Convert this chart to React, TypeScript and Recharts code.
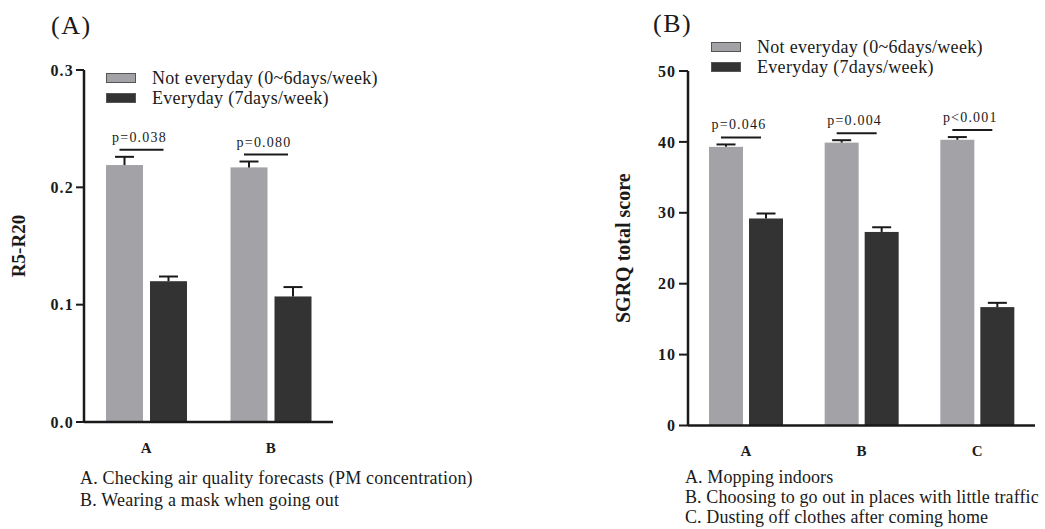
import React from 'react';
import { BarChart, Bar, XAxis, YAxis, Legend, Label } from 'recharts';

// panel A: R5-R20
const categoriesA = ['A', 'B'];
const notEverydayA = [0.219, 0.217];
const notEverydayErrA = [0.007, 0.005];
const everydayA = [0.12, 0.107];
const everydayErrA = [0.004, 0.008];
const pValuesA = ['p=0.038', 'p=0.080'];
const yTicksA = [0, 0.1, 0.2, 0.3];
const notesA = ['A. Checking air quality forecasts (PM concentration)', 'B. Wearing a mask when going out'];

// panel B: SGRQ total score
const categoriesB = ['A', 'B', 'C'];
const notEverydayB = [39.3, 39.9, 40.3];
const notEverydayErrB = [0.34, 0.34, 0.38];
const everydayB = [29.2, 27.3, 16.7];
const everydayErrB = [0.7, 0.66, 0.6];
const pValuesB = ['p=0.046', 'p=0.004', 'p<0.001'];
const yTicksB = [0, 10, 20, 30, 40, 50];
const notesB = [
  'A. Mopping indoors',
  'B. Choosing to go out in places with little traffic',
  'C. Dusting off clothes after coming home',
];

const seriesNames = ['Not everyday (0~6days/week)', 'Everyday (7days/week)'];

const GRAY = '#a3a2a7';
const DARK = '#333333';
const INK = '#1a1a1a';
const FONT = '"Liberation Serif", "Times New Roman", serif';
const seriesColors = [GRAY, DARK];

const dataA = categoriesA.map((c, i) => ({ category: c, notEveryday: notEverydayA[i], everyday: everydayA[i] }));
const dataB = categoriesB.map((c, i) => ({ category: c, notEveryday: notEverydayB[i], everyday: everydayB[i] }));

// bar + upward error bar, optionally the p-value bracket over the pair
const barShape = (values: number[], errs: number[], capWidth: number, pTexts?: string[], gap = 0) => (props: any) => {
  const { x, y, width, height, fill, index } = props;
  const pxPerUnit = height / values[index];
  const errTop = y - errs[index] * pxPerUnit;
  const cx = x + width / 2;
  let note = null;
  if (pTexts) {
    const lineY = errTop - 7;
    const x1 = cx - 5;
    const x2 = x + width + gap + width / 2 - 5;
    note = (
      <g>
        <line x1={x1} y1={lineY} x2={x2} y2={lineY} stroke={INK} strokeWidth={2} />
        <text x={(x1 + x2) / 2 - 2} y={lineY - 8} textAnchor="middle" fontFamily={FONT} fontSize={14} letterSpacing={1.2} fill={INK}>
          {pTexts[index]}
        </text>
      </g>
    );
  }
  return (
    <g>
      <rect x={x} y={y} width={width} height={height} fill={fill} />
      <line x1={cx} y1={y} x2={cx} y2={errTop} stroke={INK} strokeWidth={2} />
      <line x1={cx - capWidth / 2} y1={errTop} x2={cx + capWidth / 2} y2={errTop} stroke={INK} strokeWidth={2} />
      {note}
    </g>
  );
};

// legend kept in series order (recharts sorts by name otherwise)
const legendContent = () => (
  <div style={{ fontFamily: FONT, fontSize: 18, color: INK }}>
    {seriesNames.map((name, i) => (
      <div key={name} style={{ display: 'flex', alignItems: 'center', height: 20 }}>
        <span
          style={{
            display: 'inline-block',
            width: 30,
            height: 10,
            background: seriesColors[i],
            border: '1px solid #555',
            boxSizing: 'border-box',
            marginRight: 16,
          }}
        />
        <span style={{ letterSpacing: 0.3, whiteSpace: 'nowrap' }}>{name}</span>
      </div>
    ))}
  </div>
);

const yLabel = (text: string, x: number, fontSize: number) => (props: any) => {
  const vb = props.viewBox;
  const cy = vb.y + vb.height / 2;
  return (
    <text
      x={x}
      y={cy}
      transform={`rotate(-90 ${x} ${cy})`}
      textAnchor="middle"
      dominantBaseline="central"
      fontFamily={FONT}
      fontWeight="bold"
      fontSize={fontSize}
      fill={INK}
    >
      {text}
    </text>
  );
};

const xTick = { fontFamily: FONT, fontWeight: 'bold', fontSize: 15, fill: INK };
const yTick = { fontFamily: FONT, fontWeight: 'bold', fontSize: 16, fill: INK };

export default function App() {
  return (
    <div style={{ position: 'absolute', left: 0, top: 0, width: 1045, height: 529, background: '#fff', fontFamily: FONT, color: INK }}>
      <div style={{ position: 'absolute', left: 51, top: 13, fontSize: 26, lineHeight: '26px', letterSpacing: 1.5 }}>(A)</div>
      <div style={{ position: 'absolute', left: 653, top: 11, fontSize: 26, lineHeight: '26px', letterSpacing: 1.5 }}>(B)</div>

      <div style={{ position: 'absolute', left: 0, top: 0 }}>
        <BarChart width={350} height={529} data={dataA} margin={{ top: 70, right: 17, bottom: 77, left: 0 }} barGap={7} barSize={37}>
          <XAxis
            dataKey="category"
            axisLine={{ stroke: INK, strokeWidth: 2.5 }}
            tickLine={false}
            tickMargin={14}
            tick={xTick}
          />
          <YAxis
            width={84}
            domain={[0, 0.3]}
            ticks={yTicksA}
            tickFormatter={(v: number) => v.toFixed(1)}
            axisLine={{ stroke: INK, strokeWidth: 2.5 }}
            tickLine={{ stroke: INK, strokeWidth: 2 }}
            tickSize={8}
            tickMargin={2}
            tick={{ ...yTick, letterSpacing: 1.2 }}
          >
            <Label content={yLabel('R5-R20', 18, 19)} />
          </YAxis>
          <Legend
            layout="vertical"
            align="center"
            verticalAlign="middle"
            content={legendContent}
            wrapperStyle={{ top: 68, left: 106, width: 320, height: 40 }}
          />
          <Bar
            dataKey="notEveryday"
            name={seriesNames[0]}
            fill={GRAY}
            isAnimationActive={false}
            shape={barShape(notEverydayA, notEverydayErrA, 19, pValuesA, 7)}
          />
          <Bar
            dataKey="everyday"
            name={seriesNames[1]}
            fill={DARK}
            isAnimationActive={false}
            shape={barShape(everydayA, everydayErrA, 19)}
          />
        </BarChart>
      </div>

      <div style={{ position: 'absolute', left: 600, top: 0 }}>
        <BarChart width={445} height={529} data={dataB} margin={{ top: 71, right: 10, bottom: 73.5, left: 0 }} barGap={6} barSize={34}>
          <XAxis
            dataKey="category"
            axisLine={{ stroke: INK, strokeWidth: 2.5 }}
            tickLine={false}
            tickMargin={14}
            tick={xTick}
          />
          <YAxis
            width={88}
            domain={[0, 50]}
            ticks={yTicksB}
            axisLine={{ stroke: INK, strokeWidth: 2.5 }}
            tickLine={{ stroke: INK, strokeWidth: 2 }}
            tickSize={9}
            tickMargin={3}
            tick={{ ...yTick, letterSpacing: 1 }}
          >
            <Label content={yLabel('SGRQ total score', 23, 20)} />
          </YAxis>
          <Legend
            layout="vertical"
            align="center"
            verticalAlign="middle"
            content={legendContent}
            wrapperStyle={{ top: 37, left: 111, width: 320, height: 40 }}
          />
          <Bar
            dataKey="notEveryday"
            name={seriesNames[0]}
            fill={GRAY}
            isAnimationActive={false}
            shape={barShape(notEverydayB, notEverydayErrB, 19, pValuesB, 6)}
          />
          <Bar
            dataKey="everyday"
            name={seriesNames[1]}
            fill={DARK}
            isAnimationActive={false}
            shape={barShape(everydayB, everydayErrB, 19)}
          />
        </BarChart>
      </div>

      <div style={{ position: 'absolute', left: 80, top: 467, fontSize: 18, lineHeight: '22px', letterSpacing: 0.2, whiteSpace: 'nowrap' }}>
        {notesA.map((n) => (
          <div key={n}>{n}</div>
        ))}
      </div>
      <div style={{ position: 'absolute', left: 685, top: 467, fontSize: 18, lineHeight: '20px', letterSpacing: 0.1, whiteSpace: 'nowrap' }}>
        {notesB.map((n) => (
          <div key={n}>{n}</div>
        ))}
      </div>
    </div>
  );
}
